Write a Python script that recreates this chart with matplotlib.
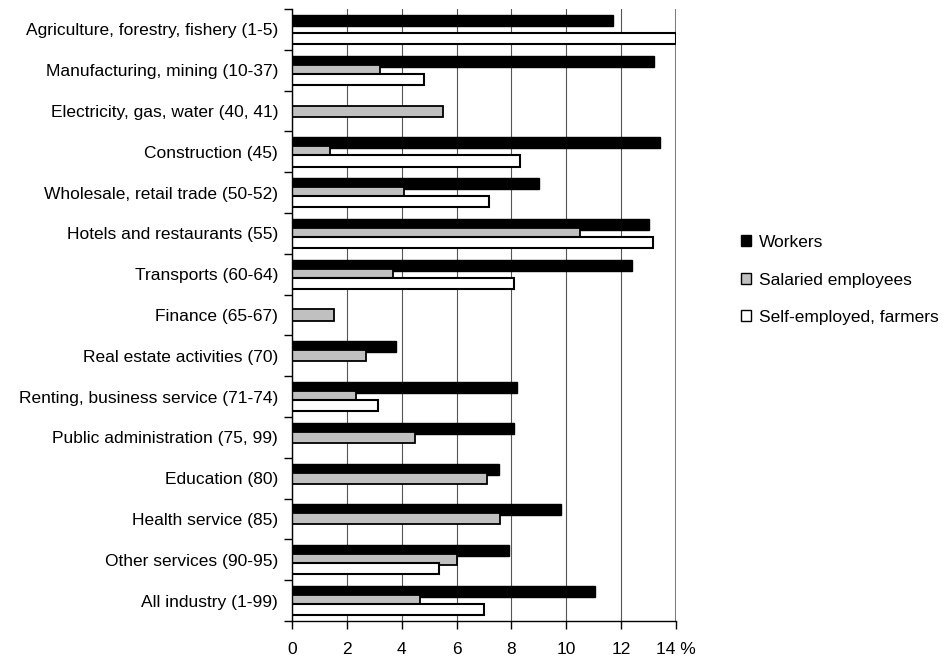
import numpy as np
import matplotlib.pyplot as plt
from matplotlib.patches import Patch

plt.rcParams['font.family'] = ['Liberation Sans', 'DejaVu Sans']

categories = [
    'Agriculture, forestry, fishery (1-5)',
    'Manufacturing, mining (10-37)',
    'Electricity, gas, water (40, 41)',
    'Construction (45)',
    'Wholesale, retail trade (50-52)',
    'Hotels and restaurants (55)',
    'Transports (60-64)',
    'Finance (65-67)',
    'Real estate activities (70)',
    'Renting, business service (71-74)',
    'Public administration (75, 99)',
    'Education (80)',
    'Health service (85)',
    'Other services (90-95)',
    'All industry (1-99)',
]
workers = [11.7, 13.2, 0, 13.4, 9.0, 13.0, 12.4, 0, 3.8, 8.2, 8.1, 7.55, 9.8, 7.9, 11.05]
salaried = [0, 3.2, 5.5, 1.4, 4.1, 10.5, 3.7, 1.55, 2.7, 2.35, 4.5, 7.1, 7.6, 6.0, 4.65]
self_employed = [14.0, 4.8, 0, 8.3, 7.2, 13.15, 8.1, 0, 0, 3.15, 0, 0, 0, 5.35, 7.0]
series_names = ['Workers', 'Salaried employees', 'Self-employed, farmers']
x_ticks = [0, 2, 4, 6, 8, 10, 12, 14]
x_ticklabels = ['0', '2', '4', '6', '8', '10', '12', '14 %']

fig = plt.figure(figsize=(9.47, 6.59), dpi=100)
ax = fig.add_axes([0.3083, 0.0577, 0.4055, 0.9286])

y = np.arange(len(categories))
h = 0.27
step = 0.225
styles = [('black', 1.0), ('#C0C0C0', 1.3), ('white', 1.5)]
for i, (vals, (fc, lw)) in enumerate(zip([workers, salaried, self_employed], styles)):
    v = np.array(vals)
    mask = v > 0
    ax.barh(y[mask] + (i - 1) * step, v[mask], height=h, color=fc,
            edgecolor='black', linewidth=lw, zorder=3 + i)

ax.set_xlim(0, 14)
ax.set_ylim(len(categories) - 0.5, -0.5)
ax.set_yticks(y)
ax.set_yticklabels(categories, fontsize=12.5)
ax.set_yticks(np.arange(-0.5, len(categories)), minor=True)
ax.tick_params(axis='y', which='major', length=0, pad=10)
ax.tick_params(axis='y', which='minor', length=6, width=1, direction='out')
ax.set_xticks(x_ticks)
ax.set_xticklabels(x_ticklabels, fontsize=12.5)
ax.tick_params(axis='x', length=6, width=1, direction='out', pad=9)

ax.grid(axis='x', color='#555555', linewidth=0.8, zorder=0)
ax.axvline(14, color='#808080', linewidth=1.5, zorder=1)
for s in ['top', 'right']:
    ax.spines[s].set_visible(False)
for s in ['left', 'bottom']:
    ax.spines[s].set_linewidth(1.0)
    ax.spines[s].set_zorder(6)

handles = [Patch(facecolor=fc, edgecolor='black', linewidth=1.0) for fc, _ in styles]
fig.legend(handles, series_names, loc='upper left', bbox_to_anchor=(0.775, 0.654),
           frameon=False, fontsize=12.5, handlelength=0.6, handleheight=0.6,
           handletextpad=0.45, labelspacing=1.3, borderaxespad=0)

fig.savefig('out.png', dpi=100)
